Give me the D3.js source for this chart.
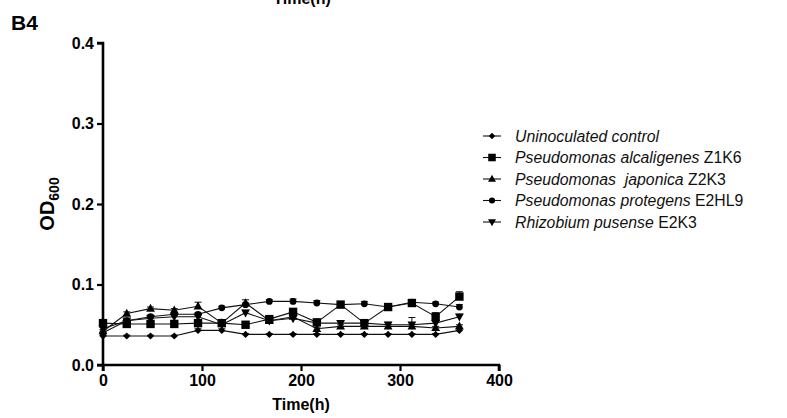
<!DOCTYPE html>
<html>
<head>
<meta charset="utf-8">
<script src="https://cdn.jsdelivr.net/npm/d3@7"></script>
<style>
  body { margin: 0; background: #fff; }
  svg { display: block; font-family: "Liberation Sans", Arial, sans-serif; }
</style>
</head>
<body>
<div id="chart"></div>
<script>
// sampling times (h)
const times = [0, 24, 48, 72, 96, 120, 144, 168, 192, 216, 240, 264, 288, 312, 336, 360];

const control   = [0.036, 0.036, 0.036, 0.036, 0.043, 0.043, 0.038, 0.038, 0.038, 0.038, 0.038, 0.038, 0.038, 0.038, 0.038, 0.043];
const controlErr = [0.001, 0.001, 0.001, 0.001, 0.002, 0.002, 0.001, 0.001, 0.001, 0.001, 0.001, 0.001, 0.001, 0.001, 0.001, 0.002];
const alcaligenes = [0.052, 0.051, 0.051, 0.051, 0.052, 0.052, 0.050, 0.057, 0.066, 0.053, 0.075, 0.052, 0.072, 0.077, 0.060, 0.085];
const alcaligenesErr = [0.002, 0.002, 0.002, 0.002, 0.002, 0.002, 0.002, 0.003, 0.004, 0.003, 0.004, 0.003, 0.004, 0.002, 0.005, 0.006];
const japonica  = [0.042, 0.064, 0.070, 0.068, 0.073, 0.052, 0.077, 0.055, 0.060, 0.045, 0.048, 0.048, 0.048, 0.048, 0.046, 0.048];
const japonicaErr = [0.002, 0.002, 0.002, 0.002, 0.005, 0.002, 0.004, 0.002, 0.003, 0.002, 0.002, 0.002, 0.002, 0.002, 0.002, 0.002];
const protegens = [0.040, 0.055, 0.060, 0.063, 0.063, 0.071, 0.075, 0.079, 0.079, 0.077, 0.075, 0.076, 0.072, 0.078, 0.076, 0.072];
const protegensErr = [0.001, 0.002, 0.002, 0.002, 0.002, 0.002, 0.002, 0.002, 0.003, 0.003, 0.003, 0.003, 0.003, 0.002, 0.002, 0.003];
const pusense   = [0.045, 0.055, 0.058, 0.060, 0.060, 0.050, 0.065, 0.055, 0.058, 0.052, 0.052, 0.052, 0.050, 0.050, 0.052, 0.060];
const pusenseErr = [0.002, 0.002, 0.002, 0.002, 0.002, 0.002, 0.003, 0.002, 0.003, 0.003, 0.003, 0.003, 0.003, 0.009, 0.003, 0.003];

const seriesNames = [
  ["Uninoculated control", ""],
  ["Pseudomonas alcaligenes", " Z1K6"],
  ["Pseudomonas  japonica", " Z2K3"],
  ["Pseudomonas protegens", " E2HL9"],
  ["Rhizobium pusense", " E2K3"]
];
const seriesValues = [control, alcaligenes, japonica, protegens, pusense];
const seriesErrors = [controlErr, alcaligenesErr, japonicaErr, protegensErr, pusenseErr];
const symbols = ["diamond", "square", "triangle", "circle", "tridown"];

const xTicks = [0, 100, 200, 300, 400];
const yTicks = [0.0, 0.1, 0.2, 0.3, 0.4];

const width = 787, height = 418;
const margin = {left: 103, right: 290, top: 43, bottom: 53};

const svg = d3.select("#chart").append("svg")
    .attr("width", width)
    .attr("height", height);

const x = d3.scaleLinear().domain([0, 400]).range([margin.left, width - margin.right + 2]);
const y = d3.scaleLinear().domain([0, 0.4]).range([height - margin.bottom, margin.top]);

// marker shapes
function marker(type, size) {
  const s = size;
  if (type === "diamond") return `M0,${-s}L${s},0L0,${s}L${-s},0Z`;
  if (type === "square") return `M${-s},${-s}H${s}V${s}H${-s}Z`;
  if (type === "triangle") return `M0,${-s * 1.15}L${s * 1.05},${s * 0.75}H${-s * 1.05}Z`;
  if (type === "tridown") return `M0,${s * 1.15}L${s * 1.05},${-s * 0.75}H${-s * 1.05}Z`;
  return d3.symbol(d3.symbolCircle, Math.PI * s * s)();
}
const mSize = [3.6, 4.2, 4.2, 3.4, 4.2];

// leftover title from panel above
svg.append("text")
    .attr("x", 302).attr("y", 4)
    .attr("text-anchor", "middle")
    .attr("font-size", 16).attr("font-weight", "bold")
    .text("Time(h)");

svg.append("text")
    .attr("x", 11).attr("y", 30)
    .attr("font-size", 21).attr("font-weight", "bold")
    .text("B4");

const line = d3.line().x((d, i) => x(times[i])).y(d => y(d));

const plot = svg.append("g");
seriesValues.forEach((vals, k) => {
  plot.append("path")
      .datum(vals)
      .attr("fill", "none")
      .attr("stroke", "#111")
      .attr("stroke-width", 1.1)
      .attr("d", line);

  const err = seriesErrors[k];
  const eb = plot.append("g").attr("stroke", "#111").attr("stroke-width", 1);
  vals.forEach((v, i) => {
    const cx = x(times[i]);
    eb.append("line").attr("x1", cx).attr("x2", cx).attr("y1", y(v)).attr("y2", y(v + err[i]));
    eb.append("line").attr("x1", cx - 3.5).attr("x2", cx + 3.5).attr("y1", y(v + err[i])).attr("y2", y(v + err[i]));
  });

  plot.append("g").selectAll("path")
      .data(vals)
      .join("path")
      .attr("transform", (d, i) => `translate(${x(times[i])},${y(d)})`)
      .attr("d", marker(symbols[k], mSize[k]))
      .attr("fill", "#000");
});

// axes
const xAxis = svg.append("g")
    .attr("transform", `translate(0,${y(0)})`)
    .call(d3.axisBottom(x).tickValues(xTicks).tickSize(6).tickPadding(4).tickFormat(d3.format("d")));
const yAxis = svg.append("g")
    .attr("transform", `translate(${x(0)},0)`)
    .call(d3.axisLeft(y).tickValues(yTicks).tickSize(6).tickPadding(3).tickFormat(d3.format(".1f")));
[xAxis, yAxis].forEach(a => {
  a.select(".domain").attr("stroke", "#000").attr("stroke-width", 2.6);
  a.selectAll(".tick line").attr("stroke", "#000").attr("stroke-width", 2.2);
  a.selectAll(".tick text").attr("fill", "#000").attr("font-size", 16).attr("font-weight", "bold")
      .attr("font-family", "Liberation Sans, Arial, sans-serif");
});
xAxis.select(".domain").attr("d", `M${x(0)},6V0H${x(400)}V6`);
yAxis.select(".domain").attr("d", `M-6,${y(0.4)}H0V${y(0)}H-6`);

svg.append("text")
    .attr("x", (x(0) + x(400)) / 2).attr("y", 410)
    .attr("text-anchor", "middle")
    .attr("font-size", 16).attr("font-weight", "bold")
    .text("Time(h)");

const yl = svg.append("text")
    .attr("transform", `translate(54,${y(0.2)}) rotate(-90)`)
    .attr("text-anchor", "middle")
    .attr("font-size", 20).attr("font-weight", "bold");
yl.append("tspan").text("OD");
yl.append("tspan").attr("font-size", 14).attr("dy", 5).text("600");

// legend
const legend = svg.append("g");
seriesNames.forEach((nm, k) => {
  const ly = 136 + k * 21.5;
  legend.append("line").attr("x1", 483).attr("x2", 501).attr("y1", ly).attr("y2", ly)
      .attr("stroke", "#111").attr("stroke-width", 1.1);
  legend.append("path").attr("transform", `translate(492,${ly})`)
      .attr("d", marker(symbols[k], mSize[k] * 0.9)).attr("fill", "#000");
  const t = legend.append("text").attr("x", 515).attr("y", ly + 5.5).attr("font-size", 15.8).attr("fill", "#111")
      .style("white-space", "pre");
  t.append("tspan").attr("font-style", "italic").text(nm[0]);
  t.append("tspan").text(nm[1]);
});
</script>
</body>
</html>
